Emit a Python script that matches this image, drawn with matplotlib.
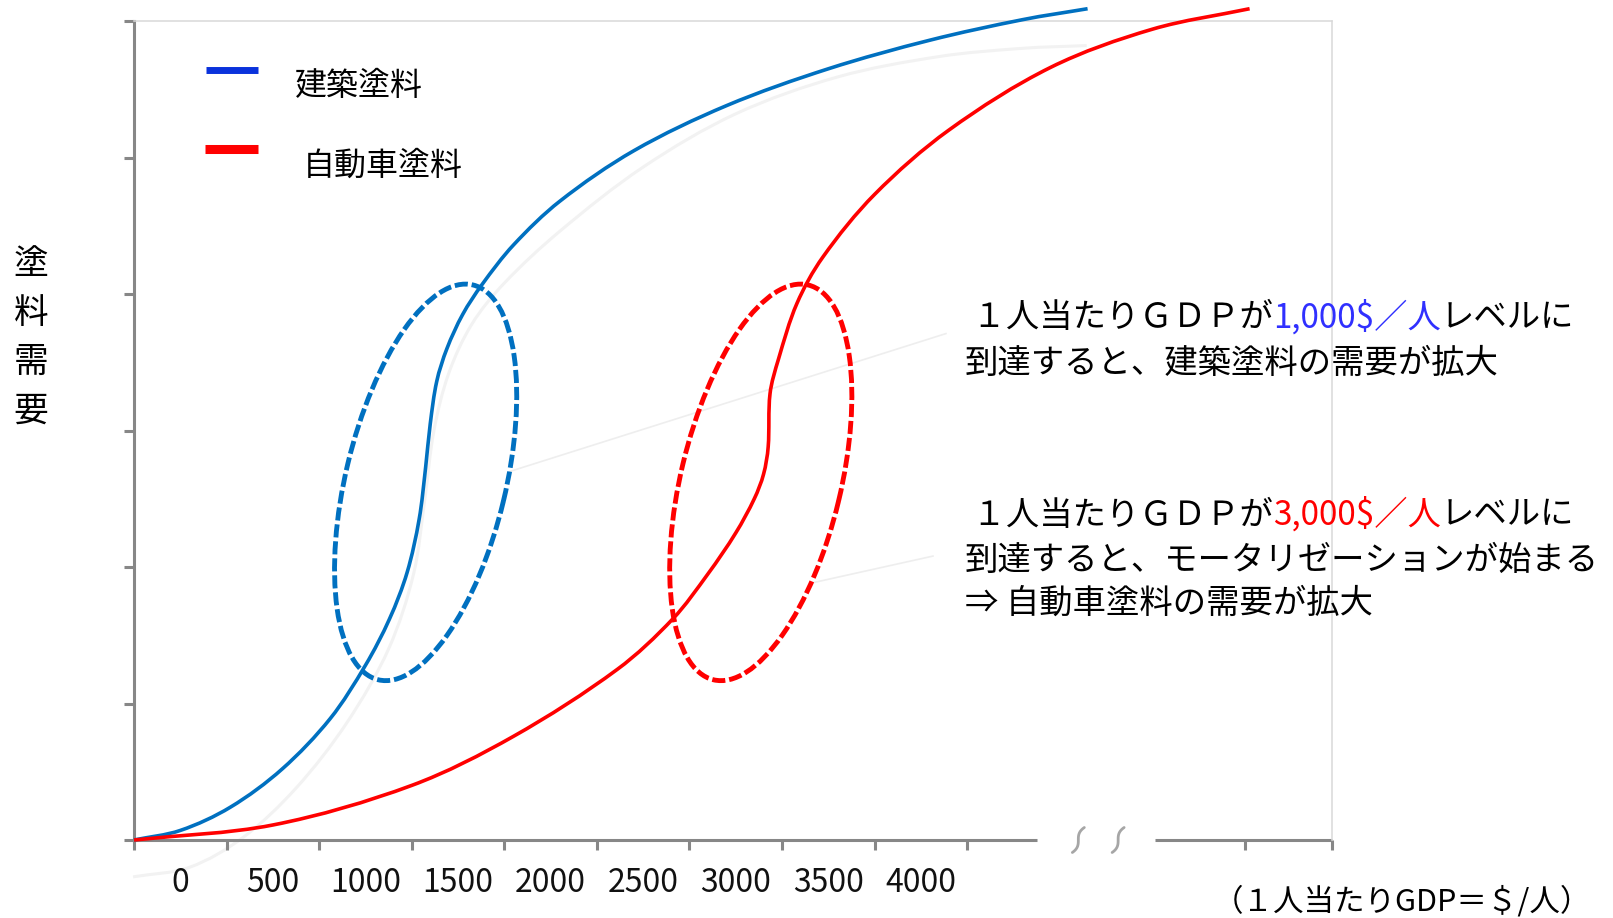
import numpy as np
import matplotlib
matplotlib.use('Agg')
import matplotlib.pyplot as plt
from matplotlib.path import Path
from matplotlib.patches import PathPatch, Ellipse
from matplotlib.transforms import ScaledTranslation

plt.rcParams['font.family'] = ['Noto Sans CJK JP', 'DejaVu Sans']

# x軸カテゴリ (1人当たりGDP)
x_labels = ['0', '500', '1000', '1500', '2000', '2500', '3000', '3500', '4000']

# 建築塗料の需要曲線
build_x = [0, 0.50, 1.04, 1.60, 2.12, 2.50, 2.76, 2.95, 3.08, 3.15, 3.20, 3.27, 3.38, 3.55,
           3.76, 4.10, 4.60, 5.40, 6.40, 7.50, 8.60, 9.60, 10.30]
build_y = [0, 0.07, 0.24, 0.52, 0.89, 1.28, 1.62, 1.96, 2.35, 2.73, 3.05, 3.36, 3.60, 3.85,
           4.07, 4.36, 4.68, 5.05, 5.38, 5.65, 5.86, 6.01, 6.09]

# 自動車塗料の需要曲線
auto_x = [0, 1.50, 3.00, 4.10, 5.22, 5.82, 6.20, 6.50, 6.70, 6.80, 6.85, 6.87, 6.96, 7.16,
          7.44, 8.00, 8.80, 9.90, 11.00, 12.05]
auto_y = [0, 0.11, 0.40, 0.76, 1.25, 1.62, 1.95, 2.25, 2.50, 2.68, 2.88, 3.27, 3.52, 3.93,
          4.27, 4.73, 5.20, 5.66, 5.94, 6.09]

# 背景のうすい曲線
ghost_x = [-0.01, 0.60, 1.18, 1.75, 2.30, 2.75, 3.02, 3.14, 3.24, 3.40, 3.65, 4.00, 4.60,
           5.50, 6.50, 7.60, 8.70, 9.60, 10.29]
ghost_y = [-0.27, -0.20, 0.02, 0.38, 0.86, 1.40, 1.95, 2.49, 3.00, 3.42, 3.78, 4.08, 4.46,
           4.93, 5.32, 5.59, 5.74, 5.80, 5.82]

# 楕円 (中心)
ell_cx = [3.15, 6.77]
ell_cy = [2.62, 2.62]
ell_color = ['#0070c0', '#ff0000']

# 引き出し線
lead_x = [[4.06, 8.77], [7.30, 8.63]]
lead_y = [[2.70, 3.71], [1.88, 2.08]]

W, H = 1613, 918
fig = plt.figure(figsize=(W / 100, H / 100), dpi=100)
ax = fig.add_axes([134 / W, 78 / H, 1198 / W, 819 / H])
ax.set_xlim(0, 12.94)
ax.set_ylim(0, 6)

gray = '#878787'


def smooth_path(xs, ys, sx=92.6, sy=136.5):
    # 弦長パラメータのCatmull-Rom -> Bezier
    pts = np.column_stack([xs, ys]).astype(float)
    n = len(pts)
    d = np.hypot(np.diff(pts[:, 0]) * sx, np.diff(pts[:, 1]) * sy)
    t = np.concatenate([[0], np.cumsum(d)])
    m = np.zeros_like(pts)
    m[0] = (pts[1] - pts[0]) / (t[1] - t[0])
    m[-1] = (pts[-1] - pts[-2]) / (t[-1] - t[-2])
    for i in range(1, n - 1):
        m[i] = (pts[i + 1] - pts[i - 1]) / (t[i + 1] - t[i - 1])
    verts = [pts[0]]
    codes = [Path.MOVETO]
    for i in range(n - 1):
        h = t[i + 1] - t[i]
        verts += [pts[i] + m[i] * h / 3, pts[i + 1] - m[i + 1] * h / 3, pts[i + 1]]
        codes += [Path.CURVE4] * 3
    return Path(verts, codes)


def inch(px, py):
    return px / 100, (H - py) / 100


# 枠
ax.spines['top'].set_color('#d9d9d9')
ax.spines['right'].set_color('#d9d9d9')
ax.spines['top'].set_linewidth(1.1)
ax.spines['right'].set_linewidth(1.1)
ax.spines['left'].set_color(gray)
ax.spines['left'].set_linewidth(2.2)
ax.spines['bottom'].set_visible(False)

# x軸 (途中で省略)
ax.plot([0, 9.75], [0, 0], color=gray, lw=2.2, clip_on=False, solid_capstyle='butt', zorder=2)
ax.plot([11.03, 12.94], [0, 0], color=gray, lw=2.2, clip_on=False, solid_capstyle='butt', zorder=2)
s = np.linspace(0, 1, 40)
for xb in [10.2, 10.63]:
    tr = fig.dpi_scale_trans + ScaledTranslation(xb, 0, ax.transData)
    ax.plot(0.48 * (0.5 - s) ** 3, 0.125 - 0.25 * s, transform=tr, color='#a6a6a6',
            lw=2.0, clip_on=False, solid_capstyle='round')

ax.set_xticks(list(range(10)) + [12, 12.94])
ax.set_xticklabels([])
ax.set_xticks(np.arange(len(x_labels)) + 0.5, labels=x_labels, minor=True)
ax.set_yticks(range(7))
ax.set_yticklabels([])
ax.tick_params(axis='both', which='major', length=7.2, width=2.2, color=gray, direction='out')
ax.tick_params(axis='x', which='minor', length=0, pad=31, labelsize=23, labelcolor='#111111')
for lbl in ax.get_xticklabels(minor=True):
    lbl.set_verticalalignment('center')

# うすい曲線と引き出し線
ax.add_patch(PathPatch(smooth_path(ghost_x, ghost_y), fill=False, ec='#f2f2f2', lw=2.2,
                       clip_on=False, zorder=1))
for lx, ly in zip(lead_x, lead_y):
    ax.plot(lx, ly, color='#eeeeee', lw=1.2, zorder=1)

# 楕円
for cx, cy, c in zip(ell_cx, ell_cy, ell_color):
    tr = fig.dpi_scale_trans + ScaledTranslation(cx, cy, ax.transData)
    ax.add_patch(Ellipse((0, 0), 4.06, 1.60, angle=76.5, transform=tr, fill=False, ec=c,
                         lw=3.5, linestyle=(0, (2.7, 0.8)), clip_on=False, zorder=3))

# 需要曲線
ax.add_patch(PathPatch(smooth_path(build_x, build_y), fill=False, ec='#0070c0', lw=2.6,
                       clip_on=False, zorder=4, capstyle='butt'))
ax.add_patch(PathPatch(smooth_path(auto_x, auto_y), fill=False, ec='#ff0000', lw=2.6,
                       clip_on=False, zorder=4, capstyle='butt'))

T = fig.dpi_scale_trans

# 凡例
fig.add_artist(plt.Line2D([2.06, 2.58], [inch(0, 69.5)[1]] * 2, transform=T, color='#0a32dc',
                          lw=5, solid_capstyle='butt'))
fig.add_artist(plt.Line2D([2.05, 2.58], [inch(0, 148.5)[1]] * 2, transform=T, color='#ff0000',
                          lw=6.5, solid_capstyle='butt'))
fig.text(*inch(295, 86), '建築塗料', transform=T, fontsize=23, va='center', ha='left')
fig.text(*inch(303, 166), '自動車塗料', transform=T, fontsize=23, va='center', ha='left')

# 縦軸タイトル
for i, ch in enumerate('塗料需要'):
    fig.text(*inch(31, 264 + 49 * i), ch, transform=T, fontsize=25, va='center', ha='center')

# 横軸タイトル
fig.text(*inch(1213, 902), '（１人当たりGDP＝＄/人）', transform=T, fontsize=22,
         va='center', ha='left')


def rich_line(px, py, parts, size=24):
    t = fig.text(*inch(px, py), parts[0][0], color=parts[0][1], transform=T, fontsize=size,
                 va='center', ha='left')
    for txt, col in parts[1:]:
        t = fig.add_artist(plt.Annotation(txt, xy=(1, 0), xycoords=t, color=col,
                                          fontsize=size, va='bottom', ha='left'))


k = '#000000'
rich_line(965, 318, [(' １人当たりＧＤＰが', k), ('1,000$／人', '#3030ff'), ('レベルに', k)])
rich_line(965, 363, [('到達すると、建築塗料の需要が拡大', k)])
rich_line(965, 515, [(' １人当たりＧＤＰが', k), ('3,000$／人', '#ff0000'), ('レベルに', k)])
rich_line(965, 560, [('到達すると、モータリゼーションが始まる', k)])
rich_line(965, 603, [('⇒ 自動車塗料の需要が拡大', k)])

fig.savefig('out.png', dpi=100)
